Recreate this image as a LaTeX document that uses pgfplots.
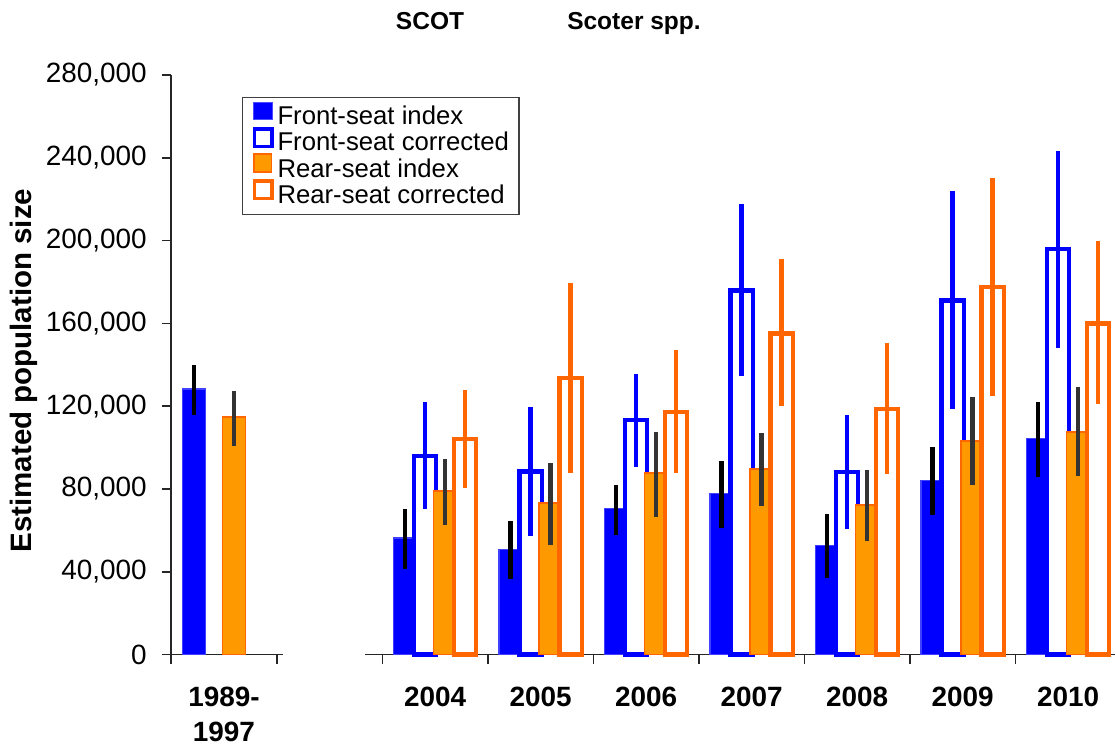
\documentclass[border=0pt]{standalone}
\usepackage{fontspec}
\setmainfont{Liberation Sans}
\usepackage{pgfplots}
\pgfplotsset{compat=1.18}
\usepackage{pgfplotstable}
\definecolor{fblue}{HTML}{0000FF}
\definecolor{rorange}{HTML}{FF9900}
\definecolor{rdark}{HTML}{FF6600}
\definecolor{egray}{HTML}{333333}

% 1989-1997
\pgfplotstableread{
x y ep em
0 128300 11500 12400
}\tabFIold
\pgfplotstableread{
x y ep em
0 114600 12700 13700
}\tabRIold
% 2004-2010 at x = 0..6
\pgfplotstableread{
x y ep em
0 56300 14000 14900
1 50900 13800 14500
2 70500 11600 12600
3 77700 15700 16400
4 52800 15000 15800
5 84000 16100 16700
6 104500 17500 18700
}\tabFI
\pgfplotstableread{
x y ep em
0 96000 26200 25700
1 88400 31100 31000
2 113200 22500 22400
3 175800 41700 41200
4 88200 27700 27500
5 171000 52800 52200
6 195900 47600 47600
}\tabFC
\pgfplotstableread{
x y ep em
0 79200 15400 16400
1 73100 19600 20300
2 87600 19900 21000
3 89800 17100 17900
4 72400 16900 17700
5 103300 21100 21500
6 107700 21400 21600
}\tabRI
\pgfplotstableread{
x y ep em
0 104100 23600 23500
1 133600 46100 45700
2 117300 29800 29400
3 155200 35800 35300
4 118600 31800 31400
5 177600 52500 52700
6 160000 39700 38800
}\tabRC

\pgfplotsset{
  common/.style={
    scale only axis, height=289.8bp, ymin=0, ymax=280000,
    anchor=south west, ybar, clip=false,
    axis x line*=bottom,
    axis line style={-, line width=0.8bp, black!85},
    tick align=outside, major tick length=4.5bp, minor tick length=4.5bp,
    major x tick style={draw=none},
    minor x tick style={line width=0.8bp, black!85},
    every tick/.style={line width=0.8bp, black!85},
    xticklabel style={font=\fontsize{14}{17.5}\selectfont\bfseries, align=center, anchor=north, inner sep=0pt, yshift=-11.5bp},
  },
  eb/.style={error bars/y dir=both, error bars/y explicit, error bars/error mark=none,
    error bars/error bar style={#1}},
  fiS/.style={bar width=11.5bp, bar shift=-15bp, fill=fblue, draw=fblue!75, line width=0.7bp,
    eb={line width=2.4bp, black}},
  fcS/.style={bar width=11.2bp, bar shift=-5bp, fill=white, draw=fblue, line width=2.2bp,
    eb={line width=2.3bp, fblue}},
  riS/.style={bar width=11.5bp, bar shift=5bp, fill=rorange, draw=rdark, line width=0.9bp,
    eb={line width=2.4bp, egray}},
  rcS/.style={bar width=11.2bp, bar shift=15bp, fill=white, draw=rdark, line width=2.2bp,
    eb={line width=2.4bp, rdark}},
}

\begin{document}
\begin{tikzpicture}
\useasboundingbox (0,0) rectangle (558bp,373.5bp);

\begin{axis}[common,
  at={(85.5bp,46.2bp)}, width=56bp,
  xmin=-0.5, xmax=0.557,
  axis y line*=left,
  xtick={0}, xticklabels={1989-\\1997},
  minor xtick={-0.5,0.5},
  ytick={0,40000,...,280000},
  scaled y ticks=false,
  /pgf/number format/fixed,
  /pgf/number format/precision=0,
  /pgf/number format/1000 sep={,},
  /pgf/number format/assume math mode=true,
  yticklabel style={font=\fontsize{14}{17}\selectfont, anchor=east, inner sep=0pt, xshift=-7.5bp},
  ylabel={Estimated population size},
  ylabel style={font=\fontsize{14.8}{17}\selectfont\bfseries, at={(axis description cs:-1.3125,0.49)}, anchor=center},
]
\addplot[fiS] table[x=x, y=y, y error plus=ep, y error minus=em]{\tabFIold};
\addplot[riS] table[x=x, y=y, y error plus=ep, y error minus=em]{\tabRIold};
\end{axis}

\begin{axis}[common,
  at={(182.5bp,46.2bp)}, width=375bp,
  xmin=-0.664, xmax=6.445,
  axis y line=none,
  xtick={0,...,6}, xticklabels={2004,2005,2006,2007,2008,2009,2010},
  minor xtick={-0.5,0.5,...,5.5},
  legend style={at={(-0.164,0.962)}, anchor=north west, draw=black!75, line width=0.6bp, fill=white,
    font=\fontsize{12.9}{14}\selectfont, inner xsep=5bp, inner ysep=2bp, row sep=-2.6bp, column sep=1.9bp,
    nodes={inner sep=0pt, text height=9.4bp, text depth=3.8bp}},
  legend cell align=left,
]
\addplot[fiS, legend image code/.code={\draw[fill=fblue, draw=fblue!70, line width=0.4bp] (0bp,-0.2bp) rectangle (9.6bp,8.6bp);}]
  table[x=x, y=y, y error plus=ep, y error minus=em]{\tabFI};
\addlegendentry{Front-seat index}
\addplot[fcS, legend image code/.code={\draw[fill=white, draw=fblue, line width=1.7bp] (0.85bp,-0.45bp) rectangle (9.5bp,8.2bp);}]
  table[x=x, y=y, y error plus=ep, y error minus=em]{\tabFC};
\addlegendentry{Front-seat corrected}
\addplot[riS, legend image code/.code={\draw[fill=rorange, draw=rdark, line width=0.9bp] (0.45bp,-0.2bp) rectangle (9.2bp,8.6bp);}]
  table[x=x, y=y, y error plus=ep, y error minus=em]{\tabRI};
\addlegendentry{Rear-seat index}
\addplot[rcS, legend image code/.code={\draw[fill=white, draw=rdark, line width=1.7bp] (0.85bp,-0.45bp) rectangle (9.5bp,8.2bp);}]
  table[x=x, y=y, y error plus=ep, y error minus=em]{\tabRC};
\addlegendentry{Rear-seat corrected}
\end{axis}

\node[font=\fontsize{12.3}{14}\selectfont\bfseries, anchor=base, inner sep=0pt] at (215bp,358.5bp) {SCOT};
\node[font=\fontsize{12.3}{14}\selectfont\bfseries, anchor=base, inner sep=0pt] at (317bp,358.5bp) {Scoter spp.};
\end{tikzpicture}
\end{document}
